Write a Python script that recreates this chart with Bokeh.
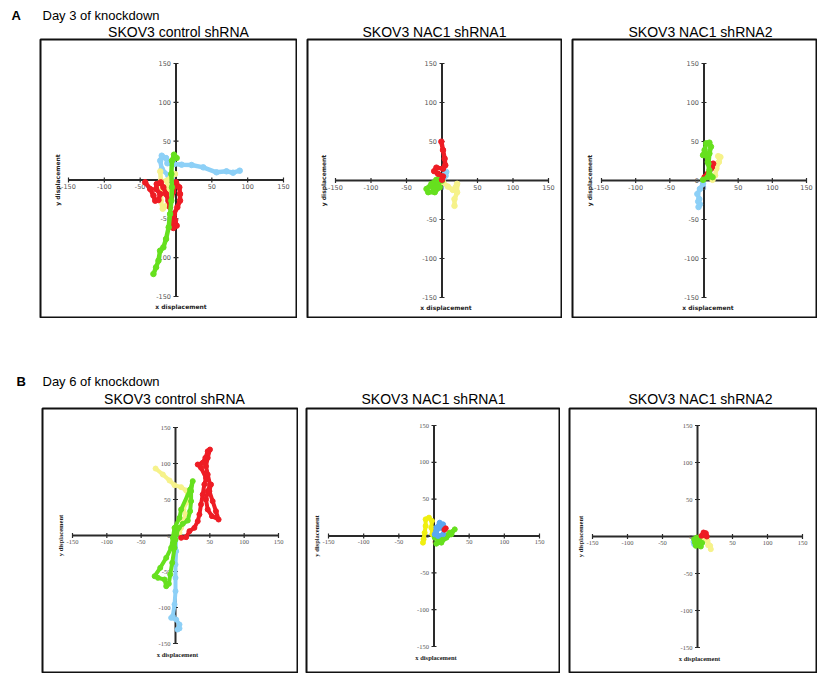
import numpy as np
from bokeh.plotting import figure
from bokeh.layouts import row, column
from bokeh.models import Range1d, Label, Spacer
from bokeh.core.properties import value
from bokeh.embed import file_html
from bokeh.resources import INLINE

# ---------------- data ----------------
TICKS = [-150, -100, -50, 0, 50, 100, 150]
TICK_LABELS = [str(t) for t in TICKS]
HEADINGS = [("A", "Day 3 of knockdown"), ("B", "Day 6 of knockdown")]
PANEL_TITLES = ["SKOV3 control shRNA", "SKOV3 NAC1 shRNA1", "SKOV3 NAC1 shRNA2"]
X_TITLE = "x displacement"
Y_TITLE = "y displacement"

# Day 3 - control
A1_BLUE_X = [-6, -10.6, -19.9, -22, -19.9, -13.9, -12, -2.8, 7.9, 21.8, 38, 56.5, 70.4, 79.6, 88.9]
A1_BLUE_Y = [2, 5.6, 14.2, 24.9, 31.3, 28.3, 21.5, 20.6, 19.7, 19.3, 16.3, 9.9, 11.2, 9.4, 12]
A1_YELLOW_X = [-1.4, -6, -13, -10.6, -8.3, -13, -18.5, -21.3, -19.4, -21, -22]
A1_YELLOW_Y = [7.7, 5.6, -1, -13.7, -26.6, -33, -37, -26.6, -13.7, -1, 11]
A1_RED_X = [-43, -36, -31.5, -29, -24.5, -22, -27.8, -26.9, -21.3, -17.6, -13.9, -10.6, -8.3, -4, 0,
            4.6, 5.6, 5.6, 1.9, -2.8, -1.4, 0.9, -3.7, -7.4, -5.6]
A1_RED_Y = [-3, -11.6, -20, -26.6, -25.8, -18, -11.6, -5.2, -3, -9.4, -18, -26.6, -35, -15, -3,
            -9.4, -18, -26.6, -35, -43.8, -52, -58.8, -61.8, -54.5, -46]
A1_GREEN_X = [0.9, -2.8, -5.6, -6.5, -5.6, -6.5, -8.3, -10.2, -13.9, -17.6, -22.2, -24.5, -27.8, -31.5]
A1_GREEN_Y = [28.3, 32.6, 24.9, 7.7, -9.4, -26.6, -43.8, -60.9, -76, -86.7, -91, -103.9, -112.4, -121]

# Day 3 - shRNA1
A2_BLUE_X = [2, 4, 6, 5]
A2_BLUE_Y = [3, 8, 11, 6]
A2_YELLOW_X = [1.4, 8.3, 15.3, 19.9, 21.3, 21.3, 17.6, 17.6]
A2_YELLOW_Y = [-2.2, -7.8, -12.1, -7.8, -4.3, -15.2, -23.8, -32.5]
A2_GREEN_X = [-3, 0, -5.6, -7.9, -14.8, -21.8, -19.4, -10.2, -3.2, -5.6, -12.5]
A2_GREEN_Y = [4, 0, -2.2, 0.9, -4.3, -10.8, -15, -15, -8.7, -2.2, -9.5]
A2_RED_X = [0, 1.4, -5.6, -11, -7.9, 1.4, 4.6, 3.7, 1.4, -0.9]
A2_RED_Y = [1, 5.2, 8.7, 12, 16.5, 15.2, 19.5, 28, 39, 49.8]

# Day 3 - shRNA2
A3_BLUE_X = [-1.4, -6, -9.7, -6.9, -8.5, -6, -8]
A3_BLUE_Y = [-4.3, -10.8, -17.3, -23.8, -27, -30.5, -34]
A3_YELLOW_X = [12.5, 16.2, 18.1, 21.8, 24, 20.8]
A3_YELLOW_Y = [0.9, 6.5, 15.2, 23.8, 30, 31.2]
A3_GREEN_X = [-1.4, 5.6, 7.9, 5.6, 3.2, -1.4, 0.9, 3.2, 7.9, 10.2, 7.9, 6.5, 7.9, 12.5]
A3_GREEN_Y = [0.9, 4.3, 13, 23.8, 32.5, 32.5, 39, 47.6, 48.5, 43.3, 34.6, 21.6, 8.7, 4.3]
A3_RED_X = [0.9, 5.6, 10.2, 13.4, 11.6]
A3_RED_Y = [4.3, 8.7, 15.2, 21.6, 17.3]

# Day 6 - control
B1_BLUE_X = [0, 1, 0, 0, 0, -1.4, -3.9, -6.3, 1, 5.8, 2.9, 5.8]
B1_BLUE_Y = [-3.2, -21.8, -40.3, -58.8, -77.3, -95.8, -112, -114.4, -116.7, -123.6, -130.6, -129]
B1_YELLOW_X = [5.8, 8.2, 10.6, 14.5, 11.6, 15.5, 17.9, 15.5, 8.2, -1.4, -8.7, -18.4, -29]
B1_YELLOW_Y = [3.7, 10.6, 19.9, 29.2, 36.1, 45.4, 54.6, 62.5, 67.1, 69.9, 76.4, 84.7, 93]
B1_RED_X = [8.2, 15.5, 20.3, 27.5, 32.4, 34.8, 37.2, 39.6, 42, 44.4, 37.2, 32.4, 39.6, 43.5, 46.9,
            50.2, 46.9, 44.4, 46.9, 50.2, 46.9, 44.4, 46.9, 53.1, 62.8, 58.9, 54.1, 49.3, 51.7]
B1_RED_Y = [-3.2, -2.3, 6, 10.6, 19.9, 29.2, 43, 57, 70.8, 80, 94, 98.6, 101, 107.9, 117,
            119.4, 107.9, 96.3, 84.7, 70.8, 61.6, 50, 36.1, 26.9, 22.2, 33.8, 47.7, 61.6, 70.8]
B1_GREEN_X = [1, 4.8, 10.6, 17.9, 21.3, 22.7, 22.7, 25.1, 21.3, 8.2, 5.8, -1.4, -3.9, -6.3, -13.5,
              -22.2, -30.4, -25.6, -15.9, -13.5, -9.7, -7.7, -4.8, -1.4, 0]
B1_GREEN_Y = [1.4, 10.6, 16.2, 20.8, 33.8, 47.7, 61.6, 75.5, 63.9, 36.1, 24.5, 10.6, -3.2, -17.1, -31,
              -44.9, -56.5, -58.8, -61.1, -70.4, -67.1, -54.2, -38, -17.1, -5.6]

# Day 6 - shRNA1
B2_YELLOW_X = [-2.4, -3.8, -2.9, -7.1, -11.9, -11.9, -13.3, -14.8, -15.7]
B2_YELLOW_Y = [2.3, 11.3, 20.4, 24.9, 22.6, 13.6, 4.5, -4.5, -9]
B2_GREEN_X = [1, 8.1, 15.2, 22.4, 29.5, 24.8, 17.6, 10.5, 3.3, 7.1]
B2_GREEN_Y = [-2.3, -6.8, 0, 4.5, 9, 2.3, -2.3, -9, -10.4, -4.5]
B2_BLUE_X = [1, 3.3, 8.1, 12.9, 14.3, 12.9, 5.7, 3.3, 10]
B2_BLUE_Y = [2.3, 11.3, 18.1, 15.8, 9, 2.3, 0, 6.8, 11.3]
B2_RED_X = [14.8, 16.7]
B2_RED_Y = [8.6, 10.4]

# Day 6 - shRNA2
B3_BLUE_X = [-5.7, -4.8]
B3_BLUE_Y = [-7.2, -10.4]
B3_YELLOW_X = [9.5, 14.3, 18.1, 19, 15.2]
B3_YELLOW_Y = [-1.4, -5.9, -12.6, -17.1, -11.7]
B3_GREEN_X = [-4.8, -2.4, 4.8, 7.1, 4.8, -1, -3.8, 2.4, 0]
B3_GREEN_Y = [-3.6, -12.6, -13.5, -8.1, -2.7, -1.4, -8.1, -10.4, -6]
B3_RED_X = [5.7, 8.6, 11.9, 13.3, 9.5]
B3_RED_Y = [0.9, 5.4, 4.5, 0, 1.8]

# ---------------- styles / layout ----------------
RED = "#ee1c24"
GREEN = "#66e01e"
LBLUE = "#8dd0f7"
PYELLOW = "#f6f28a"
BYELLOW = "#f0ef10"
MBLUE = "#5aa8f0"

PAGE_W = 818
# boxes (L, T, R, B) and data areas (x@-150, x@150, y@150, y@-150) in reference pixels
ROW_A = [
    dict(box=(40, 39, 296, 317), area=(68, 283, 63, 296), xt=(5, 10), yt=-11,
         tracks=[(A1_BLUE_X, A1_BLUE_Y, LBLUE), (A1_YELLOW_X, A1_YELLOW_Y, PYELLOW),
                 (A1_RED_X, A1_RED_Y, RED), (A1_GREEN_X, A1_GREEN_Y, GREEN)]),
    dict(box=(307, 39, 561, 317), area=(335, 548, 63, 297), xt=(4, 10), yt=-12,
         tracks=[(A2_BLUE_X, A2_BLUE_Y, LBLUE), (A2_YELLOW_X, A2_YELLOW_Y, PYELLOW),
                 (A2_GREEN_X, A2_GREEN_Y, GREEN), (A2_RED_X, A2_RED_Y, RED)]),
    dict(box=(572, 39, 816, 317), area=(601, 806, 63, 297), xt=(4, 10), yt=-12,
         tracks=[(A3_BLUE_X, A3_BLUE_Y, LBLUE), (A3_YELLOW_X, A3_YELLOW_Y, PYELLOW),
                 (A3_RED_X, A3_RED_Y, RED), (A3_GREEN_X, A3_GREEN_Y, GREEN)]),
]
ROW_B = [
    dict(box=(42, 408, 297, 672), area=(72, 278, 427, 643), xt=(2, 11), yt=-12,
         tracks=[(B1_BLUE_X, B1_BLUE_Y, LBLUE), (B1_YELLOW_X, B1_YELLOW_Y, PYELLOW),
                 (B1_RED_X, B1_RED_Y, RED), (B1_GREEN_X, B1_GREEN_Y, GREEN)]),
    dict(box=(306, 408, 559, 672), area=(328, 539, 425, 646), xt=(2, 11), yt=-12,
         tracks=[(B2_YELLOW_X, B2_YELLOW_Y, BYELLOW), (B2_GREEN_X, B2_GREEN_Y, GREEN),
                 (B2_BLUE_X, B2_BLUE_Y, MBLUE), (B2_RED_X, B2_RED_Y, RED)]),
    dict(box=(569, 408, 816, 672), area=(592, 802, 425, 647), xt=(2, 11), yt=-12,
         tracks=[(B3_BLUE_X, B3_BLUE_Y, LBLUE), (B3_GREEN_X, B3_GREEN_Y, GREEN),
                 (B3_YELLOW_X, B3_YELLOW_Y, PYELLOW), (B3_RED_X, B3_RED_Y, RED)]),
]


def panel(cfg, tick_font, tick_size, title_font, title_size, lw, ms):
    L, T, R, B = cfg["box"]
    xl, xr, yt, yb = cfg["area"]
    lo, hi = TICKS[0], TICKS[-1]
    sx = (xr - xl) / (hi - lo)
    sy = (yb - yt) / (hi - lo)
    p = figure(width=R - L + 2, height=B - T + 2, min_border=1,
               x_range=Range1d(lo - (xl - L) / sx, hi + (R - xr) / sx),
               y_range=Range1d(lo - (B - yb) / sy, hi + (yt - T) / sy),
               x_axis_type=None, y_axis_type=None, toolbar_location=None,
               output_backend="svg")
    p.outline_line_color = "#111111"
    p.outline_line_width = 2
    p.background_fill_color = "white"
    p.border_fill_color = "white"
    n = len(TICKS)
    zeros = [0] * n
    # crossing axes
    p.segment(x0=[lo, 0], y0=[0, lo], x1=[hi, 0], y1=[0, hi], line_color="#2a2a2a", line_width=2)
    p.scatter(x=TICKS, y=zeros, marker="dash", angle=np.pi / 2, size=5,
              line_color="#2a2a2a", line_width=1.2)
    p.scatter(x=zeros, y=TICKS, marker="dash", size=5, line_color="#2a2a2a", line_width=1.2)
    p.text(x=TICKS, y=zeros, text=TICK_LABELS, text_align="center", text_baseline="top",
           y_offset=4, text_font=value(tick_font), text_font_size=tick_size, text_color="#555555")
    p.text(x=zeros, y=TICKS, text=TICK_LABELS, text_align="right", text_baseline="middle",
           x_offset=-5, text_font=value(tick_font), text_font_size=tick_size, text_color="#555555")
    # axis titles
    p.text(x=[0], y=[lo], text=[X_TITLE], text_align="center", text_baseline="middle",
           x_offset=cfg["xt"][0], y_offset=cfg["xt"][1], text_font=value(title_font),
           text_font_style="bold", text_font_size=title_size, text_color="#222222")
    p.text(x=[lo], y=[0], text=[Y_TITLE], text_align="center", text_baseline="middle",
           x_offset=cfg["yt"], angle=np.pi / 2, text_font=value(title_font),
           text_font_style="bold", text_font_size=title_size, text_color="#222222")
    # tracks
    for xs, ys, col in cfg["tracks"]:
        p.line(xs, ys, line_color=col, line_width=lw, line_join="round", line_cap="round")
        p.scatter(xs, ys, size=ms, fill_color=col, line_color=col)
    return p


def header(height, letter, letter_pos, heading, heading_pos, title_pos):
    h = figure(width=PAGE_W, height=height, min_border=0,
               x_range=Range1d(0, PAGE_W), y_range=Range1d(height, 0),
               x_axis_type=None, y_axis_type=None, toolbar_location=None,
               output_backend="svg")
    h.outline_line_color = None
    h.add_layout(Label(x=letter_pos[0], y=letter_pos[1], text=letter, text_font="Liberation Sans",
                       text_font_style="bold", text_font_size="13px", text_baseline="middle",
                       text_align="left", text_color="black"))
    h.add_layout(Label(x=heading_pos[0], y=heading_pos[1], text=heading, text_font="Liberation Sans",
                       text_font_size="13px", text_baseline="middle", text_align="left",
                       text_color="black"))
    for (tx, ty), t in zip(title_pos, PANEL_TITLES):
        h.add_layout(Label(x=tx, y=ty, text=t, text_font="Liberation Sans", text_font_size="14px",
                           text_baseline="middle", text_align="center", text_color="black"))
    return h


def make_row(cfgs, figs):
    items = []
    cursor = 0
    for cfg, f in zip(cfgs, figs):
        left = cfg["box"][0] - 1
        if left - cursor > 0:
            items.append(Spacer(width=left - cursor, height=10))
        items.append(f)
        cursor = cfg["box"][2] + 1
    return row(*items, spacing=0)


figs_a = [panel(c, "DejaVu Sans", "6.5px", "DejaVu Sans", "6px", 4.5, 5.5) for c in ROW_A]
figs_b = [panel(c, "Liberation Serif", "6.5px", "Liberation Serif", "6.5px", 4, 5) for c in ROW_B]

head_a = header(38, HEADINGS[0][0], (11, 14.5), HEADINGS[0][1], (42, 15),
                [(178, 31), (434, 31), (700, 31)])
head_b = header(89, HEADINGS[1][0], (16, 62.5), HEADINGS[1][1], (42, 62.5),
                [(174, 80), (433, 80), (700, 80)])

layout = column(head_a, make_row(ROW_A, figs_a), head_b, make_row(ROW_B, figs_b), spacing=0)

open("out.html", "w").write(file_html(layout, INLINE))
